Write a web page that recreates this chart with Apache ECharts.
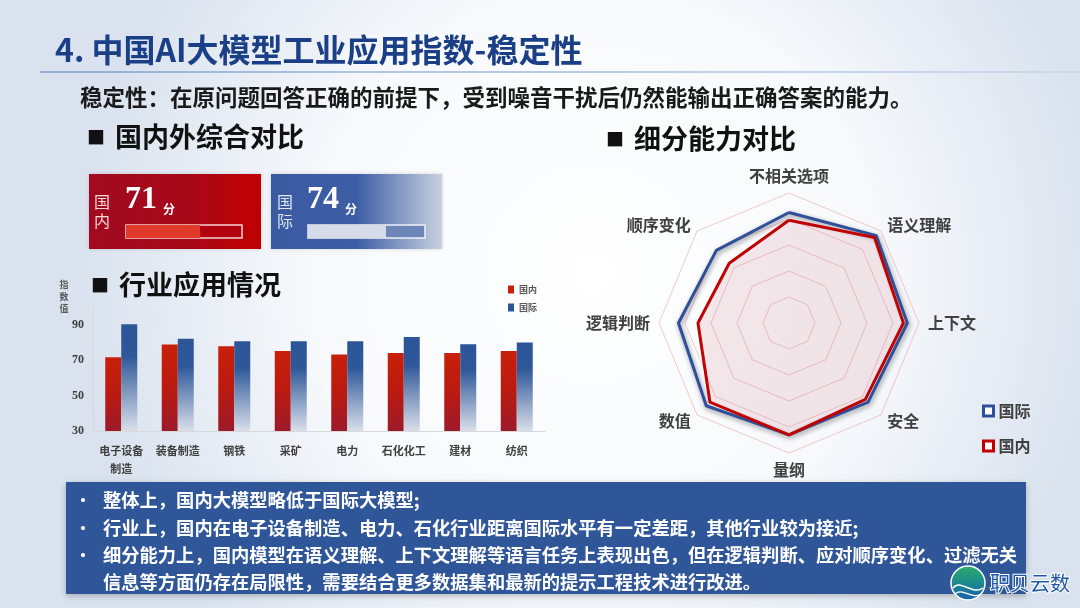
<!DOCTYPE html>
<html><head><meta charset="utf-8">
<script src="https://cdn.jsdelivr.net/npm/echarts@6/dist/echarts.min.js"></script>
<style>html,body{margin:0;padding:0;}#main{width:1080px;height:608px;}</style>
</head><body><div id="main"></div>
<script>
// ---------- data ----------
const industries = ['电子设备\n制造', '装备制造', '钢铁', '采矿', '电力', '石化化工', '建材', '纺织'];
const domesticIndustry = [71.7, 78.8, 77.9, 75.1, 73.2, 74.1, 74.1, 75.1];
const internationalIndustry = [90.3, 82.1, 80.7, 80.7, 80.7, 83.1, 79.0, 79.9];
const yTickMin = 30, yTickMax = 100, yTickStep = 20;

const overallNames = ['国内', '国际'];
const overallScores = [71, 74];

const radarIndicators = ['不相关选项', '顺序变化', '逻辑判断', '数值', '量纲', '安全', '上下文', '语义理解'];
const radarInternational = [85, 79, 85, 90, 86, 86, 91, 95];
const radarDomestic = [79, 65, 70, 86, 86, 83, 88, 93];

const bullets = [
  '整体上，国内大模型略低于国际大模型;',
  '行业上，国内在电子设备制造、电力、石化行业距离国际水平有一定差距，其他行业较为接近;',
  '细分能力上，国内模型在语义理解、上下文理解等语言任务上表现出色，但在逻辑判断、应对顺序变化、过滤无关',
  '信息等方面仍存在局限性，需要结合更多数据集和最新的提示工程技术进行改进。'
];

// ---------- chart ----------
const FF = "'Noto Sans CJK SC', 'Noto Sans', sans-serif";
const chart = echarts.init(document.getElementById('main'));

const grad = (x2, y2, stops) => ({type: 'linear', x: 0, y: 0, x2: x2, y2: y2,
  colorStops: stops.map(s => ({offset: s[0], color: s[1]}))});

const graphics = [
  {type: 'rect', z: -100, shape: {x: 0, y: 0, width: 1080, height: 608},
   style: {fill: {type: 'radial', x: 0.55, y: 0.45, r: 0.85,
     colorStops: [{offset: 0, color: '#ffffff'}, {offset: 0.55, color: '#f7f9fc'}, {offset: 1, color: '#d9e2ee'}]}}},
  {type: 'text', z: 100, x: 55, y: 50, style: {text: '4. 中国AI大模型工业应用指数-稳定性', fill: '#1b3f86',
    font: 'bold 32px ' + FF, textVerticalAlign: 'middle'}},
  {type: 'line', z: 100, shape: {x1: 40, y1: 72, x2: 1080, y2: 72},
   style: {stroke: grad(1, 0, [[0, '#7f9fd4'], [1, '#c8d6ec']]), lineWidth: 1.5}},
  {type: 'text', z: 100, x: 80, y: 97, style: {text: '稳定性：在原问题回答正确的前提下，受到噪音干扰后仍然能输出正确答案的能力。',
    fill: '#1a1a1a', font: 'bold 22.5px ' + FF, textVerticalAlign: 'middle'}},
  {type: 'text', z: 100, x: 87, y: 137, style: {text: '■', fill: '#111', font: 'bold 18px ' + FF, textVerticalAlign: 'middle'}},
  {type: 'text', z: 100, x: 115, y: 137, style: {text: '国内外综合对比', fill: '#111', font: 'bold 27px ' + FF, textVerticalAlign: 'middle'}},
  {type: 'text', z: 100, x: 606, y: 139, style: {text: '■', fill: '#111', font: 'bold 18px ' + FF, textVerticalAlign: 'middle'}},
  {type: 'text', z: 100, x: 634, y: 139, style: {text: '细分能力对比', fill: '#111', font: 'bold 27px ' + FF, textVerticalAlign: 'middle'}},
  {type: 'text', z: 100, x: 91, y: 285, style: {text: '■', fill: '#111', font: 'bold 18px ' + FF, textVerticalAlign: 'middle'}},
  {type: 'text', z: 100, x: 119, y: 285, style: {text: '行业应用情况', fill: '#111', font: 'bold 27px ' + FF, textVerticalAlign: 'middle'}},
  {type: 'text', z: 100, x: 64, y: 297, style: {text: '指\n数\n值', fill: '#595959', font: 'bold 9px ' + FF,
    textAlign: 'center', textVerticalAlign: 'middle', lineHeight: 12}},
  // score cards
  {type: 'rect', z: -5, shape: {x: 89, y: 174, width: 172, height: 75},
   style: {fill: grad(1, 0, [[0, '#a00a20'], [0.6, '#a80818'], [1, '#c10000']]), shadowBlur: 4, shadowColor: 'rgba(0,0,0,0.15)'}},
  {type: 'rect', z: -5, shape: {x: 271, y: 174, width: 171, height: 75},
   style: {fill: grad(1, 0, [[0, '#3a5ba2'], [0.5, '#3d5ea5'], [1, '#c9d1df']]), shadowBlur: 4, shadowColor: 'rgba(0,0,0,0.15)'}},
  {type: 'text', z: 100, x: 102, y: 211, style: {text: '国\n内', fill: '#f4d6d6', font: '16px ' + FF,
    textAlign: 'center', textVerticalAlign: 'middle', lineHeight: 19}},
  {type: 'text', z: 100, x: 285, y: 211, style: {text: '国\n际', fill: '#dfe5f2', font: '16px ' + FF,
    textAlign: 'center', textVerticalAlign: 'middle', lineHeight: 19}},
  {type: 'text', z: 100, x: 125, y: 200, style: {text: String(overallScores[0]), fill: '#ffffff',
    font: 'bold 32px "Liberation Serif", serif', textVerticalAlign: 'middle'}},
  {type: 'text', z: 100, x: 163, y: 209, style: {text: '分', fill: '#ffffff', font: 'bold 12px ' + FF, textVerticalAlign: 'middle'}},
  {type: 'text', z: 100, x: 307, y: 200, style: {text: String(overallScores[1]), fill: '#ffffff',
    font: 'bold 32px "Liberation Serif", serif', textVerticalAlign: 'middle'}},
  {type: 'text', z: 100, x: 345, y: 209, style: {text: '分', fill: '#ffffff', font: 'bold 12px ' + FF, textVerticalAlign: 'middle'}},
  // bottom box
  {type: 'rect', z: 50, shape: {x: 66, y: 482, width: 960, height: 112},
   style: {fill: '#30569a', shadowBlur: 6, shadowColor: 'rgba(0,0,0,0.25)', shadowOffsetY: 2}},
  {type: 'text', z: 60, x: 75, y: 500, style: {text: '•', fill: '#fff', font: 'bold 16px ' + FF, textVerticalAlign: 'middle'}},
  {type: 'text', z: 60, x: 75, y: 528, style: {text: '•', fill: '#fff', font: 'bold 16px ' + FF, textVerticalAlign: 'middle'}},
  {type: 'text', z: 60, x: 75, y: 555, style: {text: '•', fill: '#fff', font: 'bold 16px ' + FF, textVerticalAlign: 'middle'}},
  // logo
  {type: 'circle', z: 70, shape: {cx: 968, cy: 583, r: 17},
   style: {fill: grad(0, 1, [[0, '#2fae6a'], [0.5, '#1b8a8e'], [1, '#1a5fae']]), stroke: '#ffffff', lineWidth: 1.5}},
  {type: 'bezierCurve', z: 71, shape: {x1: 953, y1: 588, x2: 983, y2: 588, cpx1: 960, cpy1: 578, cpx2: 972, cpy2: 596},
   style: {stroke: '#ffffff', lineWidth: 1.5, fill: null}},
  {type: 'bezierCurve', z: 71, shape: {x1: 955, y1: 594, x2: 981, y2: 594, cpx1: 962, cpy1: 587, cpx2: 972, cpy2: 600},
   style: {stroke: '#ffffff', lineWidth: 1.2, fill: null}},
  {type: 'text', z: 70, x: 990, y: 583, style: {text: '职贝云数', fill: '#1f5aa6', font: '20px ' + FF,
    textVerticalAlign: 'middle', stroke: '#ffffff', lineWidth: 2}}
];
bullets.forEach((t, i) => {
  graphics.push({type: 'text', z: 60, x: 103, y: [500, 528, 555, 582][i],
    style: {text: t, fill: '#ffffff', font: 'bold 18.3px ' + FF, textVerticalAlign: 'middle'}});
});

const redBar = grad(0, 1, [[0, '#c8200a'], [0.5, '#bb1a10'], [1, '#9c1a2a']]);
const blueBar = grad(0, 1, [[0, '#2b5597'], [0.3, '#2f5899'], [1, '#d9dfea']]);

const option = {
  animation: false,
  graphic: graphics,
  legend: [
    {left: 503, top: 280, orient: 'vertical', itemWidth: 6, itemHeight: 8, itemGap: 9,
     textStyle: {fontSize: 9, fontWeight: 'bold', color: '#595959', fontFamily: FF},
     data: [{name: '国内', icon: 'rect', itemStyle: {color: '#c8200a'}},
            {name: '国际', icon: 'rect', itemStyle: {color: '#2b5597'}}]},
    {left: 977, top: 398, orient: 'vertical', itemWidth: 10, itemHeight: 10, itemGap: 19,
     textStyle: {fontSize: 16, fontWeight: 'bold', color: '#404040', fontFamily: FF},
     data: [{name: '国际', icon: 'rect', itemStyle: {color: '#ffffff', borderColor: '#2e4f9a', borderWidth: 3}},
            {name: '国内', icon: 'rect', itemStyle: {color: '#ffffff', borderColor: '#c00000', borderWidth: 3}}]}
  ],
  grid: [
    {left: 93, top: 307, width: 452, height: 124},
    {left: 126, top: 225, width: 116, height: 13, show: true, backgroundColor: '#b3000f', borderColor: '#f3d3d3', borderWidth: 1.5},
    {left: 308, top: 225, width: 117, height: 13, show: true, backgroundColor: '#6d86b9', borderColor: '#eef1f7', borderWidth: 1.5}
  ],
  xAxis: [
    {type: 'category', gridIndex: 0, data: industries,
     axisLine: {lineStyle: {color: '#d9d9d9'}}, axisTick: {show: false},
     axisLabel: {color: '#404040', fontSize: 11, fontWeight: 'bold', fontFamily: FF, margin: 11, lineHeight: 18, interval: 0}},
    {type: 'value', gridIndex: 1, min: 0, max: 111, show: false},
    {type: 'value', gridIndex: 2, min: 0, max: 111, show: false}
  ],
  yAxis: [
    {type: 'value', gridIndex: 0, min: yTickMin, max: yTickMax, interval: yTickStep,
     axisLine: {show: true, lineStyle: {color: '#d9d9d9'}}, axisTick: {show: false}, splitLine: {show: false},
     axisLabel: {color: '#404040', fontSize: 12, fontWeight: 'bold', fontFamily: '"Liberation Serif", serif', margin: 9, showMaxLabel: false}},
    {type: 'category', gridIndex: 1, data: [overallNames[0]], show: false},
    {type: 'category', gridIndex: 2, data: [overallNames[1]], show: false}
  ],
  radar: {
    center: [789, 323], radius: 130, startAngle: 90, splitNumber: 5, shape: 'polygon',
    indicator: radarIndicators.map(n => ({name: n, min: 0, max: 100})),
    axisName: {color: '#404040', fontSize: 16, fontWeight: 'bold', fontFamily: FF},
    nameGap: 9,
    splitLine: {lineStyle: {color: 'rgba(226,140,140,0.45)', width: 1}},
    splitArea: {show: false},
    axisLine: {show: false}, axisTick: {show: false}, axisLabel: {show: false}
  },
  series: [
    {name: '国内', type: 'bar', xAxisIndex: 0, yAxisIndex: 0, data: domesticIndustry, barWidth: 16, barGap: '0%',
     itemStyle: {color: redBar}},
    {name: '国际', type: 'bar', xAxisIndex: 0, yAxisIndex: 0, data: internationalIndustry, barWidth: 16, barGap: '0%',
     itemStyle: {color: blueBar}},
    {name: '国内综合', type: 'bar', xAxisIndex: 1, yAxisIndex: 1, data: [overallScores[0]], barWidth: 13, silent: true,
     itemStyle: {color: '#e1392a'}},
    {name: '国际综合', type: 'bar', xAxisIndex: 2, yAxisIndex: 2, data: [overallScores[1]], barWidth: 13, silent: true,
     itemStyle: {color: '#d5dce7'}},
    {type: 'radar', symbol: 'none',
     data: [
       {name: '国际', value: radarInternational,
        lineStyle: {color: '#2e4f9a', width: 3, shadowBlur: 5, shadowColor: 'rgba(0,0,0,0.45)', shadowOffsetX: 1, shadowOffsetY: 2},
        itemStyle: {color: '#2e4f9a'}},
       {name: '国内', value: radarDomestic,
        lineStyle: {color: '#c00000', width: 3},
        itemStyle: {color: '#c00000'},
        areaStyle: {color: 'rgba(185,70,85,0.17)'}}
     ]}
  ]
};
chart.setOption(option);
</script>
</body></html>
